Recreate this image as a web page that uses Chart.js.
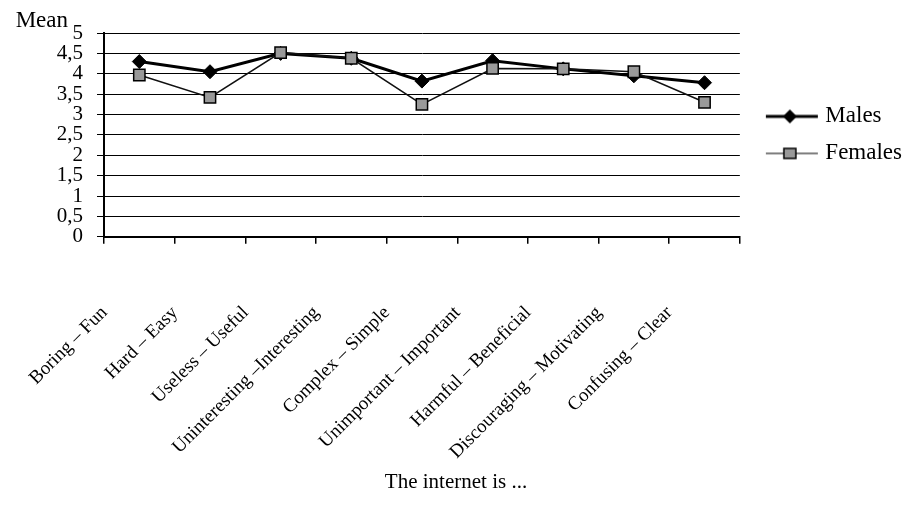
<!DOCTYPE html>
<html>
<head>
<meta charset="utf-8">
<script src="https://cdn.jsdelivr.net/npm/chart.js@4/dist/chart.umd.min.js"></script>
<style>
	html, body { margin: 0; padding: 0; background: #fff; }
</style>
</head>
<body>
<canvas id="chart" width="912" height="523"></canvas>
<script>
var categories = ['Boring – Fun', 'Hard – Easy', 'Useless – Useful', 'Uninteresting –Interesting', 'Complex – Simple',
	'Unimportant – Important', 'Harmful – Beneficial', 'Discouraging – Motivating', 'Confusing – Clear'];
var males = [4.3, 4.05, 4.5, 4.38, 3.82, 4.32, 4.12, 3.95, 3.78];
var females = [3.97, 3.42, 4.52, 4.38, 3.25, 4.13, 4.12, 4.05, 3.3];
var yTickLabels = ['0', '0,5', '1', '1,5', '2', '2,5', '3', '3,5', '4', '4,5', '5'];
var yTitle = 'Mean';
var xTitle = 'The internet is ...';

var FONT = '"Liberation Serif", "Times New Roman", serif';
Chart.defaults.font.family = FONT;
Chart.defaults.color = '#000';

// legend glyph: a short line with the series marker in the middle
function legendGlyph(lineWidth, drawMarker) {
	var c = document.createElement('canvas');
	c.width = 76;
	c.height = 24;
	var g = c.getContext('2d');
	g.strokeStyle = '#000';
	g.lineWidth = lineWidth;
	g.beginPath();
	g.moveTo(20, 12);
	g.lineTo(72, 12);
	g.stroke();
	drawMarker(g, 44, 12);
	return c;
}
var glyphs = [
	legendGlyph(3, function(g, x, y) {
		g.fillStyle = '#000';
		g.beginPath();
		g.moveTo(x, y - 7); g.lineTo(x + 7, y); g.lineTo(x, y + 7); g.lineTo(x - 7, y);
		g.closePath();
		g.fill();
	}),
	legendGlyph(1.2, function(g, x, y) {
		g.fillStyle = '#999';
		g.strokeStyle = '#000';
		g.lineWidth = 1.5;
		g.fillRect(x - 6, y - 5, 12, 10);
		g.strokeRect(x - 6, y - 5, 12, 10);
	})
];

var meanLabel = {
	id: 'meanLabel',
	afterDraw: function(chart) {
		var ctx = chart.ctx;
		var y = chart.scales.y;
		ctx.save();
		ctx.font = '23px ' + FONT;
		ctx.fillStyle = '#000';
		ctx.textAlign = 'right';
		ctx.textBaseline = 'alphabetic';
		ctx.fillText(yTitle, y.right - 36, y.getPixelForValue(5) - 6);
		ctx.restore();
	}
};

new Chart(document.getElementById('chart'), {
	type: 'line',
	data: {
		labels: categories,
		datasets: [
			{
				label: 'Males',
				data: males,
				borderColor: '#000',
				borderWidth: 3,
				pointStyle: 'rectRot',
				pointRadius: 7,
				pointBackgroundColor: '#000',
				pointBorderColor: '#000',
				pointBorderWidth: 1,
				tension: 0,
				order: 1
			},
			{
				label: 'Females',
				data: females,
				borderColor: '#111',
				borderWidth: 1.5,
				pointStyle: 'rect',
				pointRadius: 8,
				pointBackgroundColor: '#999',
				pointBorderColor: '#000',
				pointBorderWidth: 1.5,
				tension: 0,
				order: 0
			}
		]
	},
	options: {
		responsive: false,
		animation: false,
		devicePixelRatio: 1,
		layout: { padding: { top: 33, right: 0, bottom: 0, left: 0 } },
		scales: {
			x: {
				offset: true,
				grid: { offset: true, drawOnChartArea: false, drawTicks: true, tickLength: 7, color: '#000', lineWidth: 1.5 },
				border: { color: '#000', width: 2 },
				ticks: {
					autoSkip: false,
					maxRotation: 45,
					minRotation: 45,
					labelOffset: -35,
					padding: 58,
					color: '#000',
					font: { size: 19 }
				},
				afterFit: function(s) { s.height = 223; }
			},
			y: {
				min: 0,
				max: 5,
				ticks: {
					stepSize: 0.5,
					autoSkip: false,
					padding: 14,
					color: '#000',
					font: { size: 21 },
					callback: function(v) { return yTickLabels[Math.round(v * 2)]; }
				},
				grid: { color: '#000', lineWidth: 1, tickLength: 7 },
				border: { color: '#000', width: 2 },
				afterFit: function(s) { s.width = 104; }
			}
		},
		plugins: {
			legend: {
				position: 'right',
				fullSize: false,
				align: 'center',
				labels: {
					usePointStyle: true,
					pointStyleWidth: 60,
					padding: 14,
					color: '#000',
					font: { size: 23 },
					generateLabels: function(chart) {
						return chart.data.datasets.map(function(ds, i) {
							return {
								text: ds.label,
								pointStyle: glyphs[i],
								fillStyle: '#000',
								strokeStyle: '#000',
								lineWidth: 0,
								fontColor: '#000',
								hidden: false,
								datasetIndex: i
							};
						});
					}
				}
			},
			title: {
				display: true,
				position: 'bottom',
				text: xTitle,
				color: '#000',
				font: { size: 21, weight: 'normal' },
				padding: { top: 10, bottom: 28 }
			},
			tooltip: { enabled: false }
		}
	},
	plugins: [meanLabel]
});
</script>
</body>
</html>
